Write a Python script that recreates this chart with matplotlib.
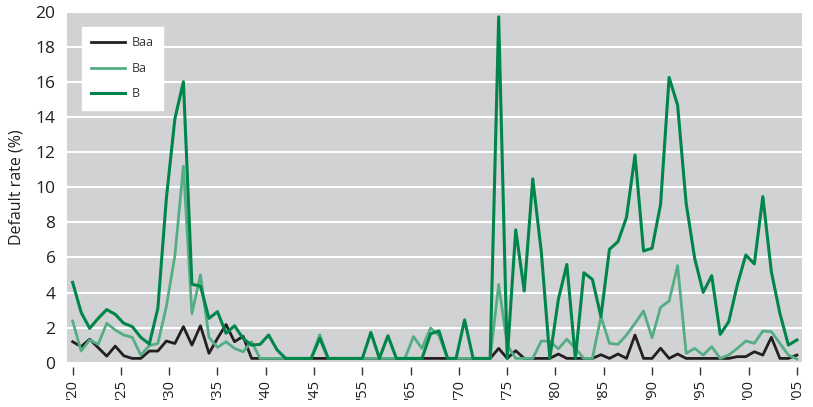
import numpy as np
import matplotlib
matplotlib.use("Agg")
import matplotlib.pyplot as plt

plt.rcParams['font.family'] = ['Open Sans', 'DejaVu Sans']

# yearly default rates (%), 1920-2005
years = np.arange(1920, 2006)

baa = [1.2, 0.92, 1.34, 0.86, 0.38, 0.95, 0.4, 0.25, 0.25, 0.67,
       0.67, 1.24, 1.1, 2.06, 1.01, 2.11, 0.54, 1.39, 2.18, 1.2,
       1.51, 0.25, 0.25, 0.25, 0.25, 0.25, 0.25, 0.25, 0.25, 0.25,
       0.25, 0.25, 0.25, 0.25, 0.25, 0.25, 0.25, 0.25, 0.25, 0.25,
       0.25, 0.25, 0.25, 0.25, 0.25, 0.25, 0.25, 0.25, 0.25, 0.25,
       0.82, 0.25, 0.69, 0.25, 0.25, 0.25, 0.25, 0.5, 0.25, 0.25,
       0.25, 0.25, 0.46, 0.25, 0.5, 0.25, 1.58, 0.25, 0.25, 0.83,
       0.25, 0.5, 0.25, 0.25, 0.25, 0.25, 0.25, 0.25, 0.35, 0.35,
       0.63, 0.44, 1.45, 0.25, 0.25, 0.44]

ba = [2.38, 0.67, 1.3, 1.05, 2.25, 1.87, 1.58, 1.45, 0.44, 0.98,
      1.1, 3.2, 6.1, 11.2, 2.8, 5.0, 1.45, 0.88, 1.2, 0.82,
      0.63, 1.2, 0.25, 0.25, 0.25, 0.25, 0.25, 0.25, 0.25, 1.6,
      0.25, 0.25, 0.25, 0.25, 0.25, 0.25, 0.25, 0.25, 0.25, 0.25,
      1.49, 0.82, 1.98, 1.55, 0.25, 0.25, 0.25, 0.25, 0.25, 0.25,
      4.46, 1.01, 0.25, 0.25, 0.25, 1.24, 1.22, 0.8, 1.34, 0.82,
      0.25, 0.25, 2.63, 1.11, 1.05, 1.58, 2.25, 2.95, 1.43, 3.16,
      3.52, 5.53, 0.54, 0.82, 0.44, 0.92, 0.25, 0.44, 0.82, 1.24,
      1.11, 1.81, 1.77, 1.11, 0.44, 0.22]

b = [4.58, 2.87, 1.96, 2.53, 3.03, 2.76, 2.25, 2.06, 1.45, 1.07,
     3.1, 9.36, 13.9, 16.0, 4.47, 4.37, 2.53, 2.91, 1.68, 2.11,
     1.39, 1.01, 1.05, 1.58, 0.73, 0.25, 0.25, 0.25, 0.25, 1.4,
     0.25, 0.25, 0.25, 0.25, 0.25, 1.73, 0.25, 1.54, 0.25, 0.25,
     0.25, 0.25, 1.65, 1.81, 0.25, 0.25, 2.44, 0.25, 0.25, 0.25,
     19.7, 0.25, 7.57, 4.09, 10.47, 6.33, 0.25, 3.6, 5.6, 0.25,
     5.13, 4.75, 2.63, 6.46, 6.9, 8.28, 11.83, 6.37, 6.52, 9.02,
     16.25, 14.67, 9.08, 5.95, 4.01, 4.96, 1.62, 2.34, 4.43, 6.14,
     5.63, 9.46, 5.19, 2.82, 1.01, 1.3]

tick_labels = ["'20", "'25", "'30", "'35", "'40", "'45", "'55", "'65",
               "'70", "'75", "'80", "'85", "'90", "'95", "'00", "'05"]

fig = plt.figure(figsize=(8.13, 4.07), dpi=100)
ax = fig.add_axes([0.082, 0.1086, 0.9045, 0.863])
ax.set_facecolor('#d1d2d4')

for s in ax.spines.values():
    s.set_visible(False)
ax.spines['bottom'].set_position(('outward', 3))

ax.plot(years, baa, color='#231f20', lw=2.0, label='Baa')
ax.plot(years, ba, color='#55ad84', lw=2.0, label='Ba')
ax.plot(years, b, color='#00854a', lw=2.2, label='B')

ax.set_ylim(0, 20)
ax.set_xlim(1919.3, 2005.6)
ax.set_yticks(np.arange(0, 21, 2))
ax.yaxis.grid(True, color='white', lw=1.5)
ax.set_axisbelow(True)
ax.tick_params(axis='y', length=0, pad=8, labelsize=12.5, labelcolor='#231f20')

# tick labels are spread evenly along the axis, as in the source chart
ax.set_xticks(np.linspace(years[0], years[-1], len(tick_labels)))
ax.set_xticklabels(tick_labels)
ax.tick_params(axis='x', length=5.5, width=1.0, color='#333333', pad=3,
               labelsize=10.5, labelcolor='#231f20', direction='out',
               labelrotation=90)

ax.set_ylabel('Default rate (%)', fontsize=11.5, color='#231f20', labelpad=8)

leg = ax.legend(loc='upper left', bbox_to_anchor=(0.021, 0.956), borderaxespad=0,
                frameon=True, fancybox=False, fontsize=9, handlelength=2.65,
                labelspacing=1.0, borderpad=0.75, handletextpad=0.6)
leg.get_frame().set_facecolor('white')
leg.get_frame().set_edgecolor('white')
leg.get_frame().set_alpha(1)
for t in leg.get_texts():
    t.set_color('#333333')

fig.savefig('out.png', dpi=100)
